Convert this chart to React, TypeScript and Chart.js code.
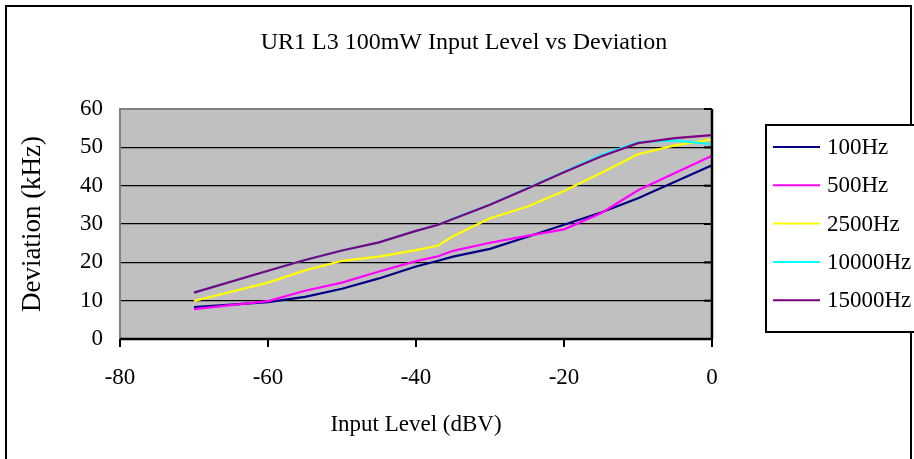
import React, { useEffect, useRef } from "react";
import { Chart, registerables } from "chart.js";

Chart.register(...registerables);

// Input level sweep (dBV), shared by every tone
const inputLevels = [-70, -60, -55, -50, -45, -40, -37, -35, -30, -25, -20, -15, -10, -5, 0];

// Measured deviation (kHz) per test tone
const dev100Hz = [8.3, 9.6, 11.0, 13.1, 15.8, 18.9, 20.4, 21.5, 23.5, 26.6, 29.8, 33.0, 36.7, 41.0, 45.3];
const dev500Hz = [7.8, 9.9, 12.6, 14.7, 17.6, 20.3, 21.6, 23.0, 25.1, 26.9, 28.6, 32.8, 38.8, 43.3, 47.8];
const dev2500Hz = [9.9, 14.7, 17.9, 20.4, 21.5, 23.2, 24.4, 26.8, 31.5, 34.5, 38.6, 43.3, 48.2, 50.5, 52.1];
const dev10000Hz = [12.1, 17.8, 20.6, 23.1, 25.2, 28.2, 29.8, 31.4, 35.1, 39.3, 43.6, 48.0, 51.3, 51.8, 50.8];
const dev15000Hz = [12.1, 17.8, 20.6, 23.1, 25.2, 28.2, 29.8, 31.3, 35.0, 39.2, 43.5, 47.6, 51.1, 52.4, 53.2];

const seriesLabels = ["100Hz", "500Hz", "2500Hz", "10000Hz", "15000Hz"];
const seriesColors = ["#000080", "#FF00FF", "#FFFF00", "#00FFFF", "#800080"];
const seriesValues = [dev100Hz, dev500Hz, dev2500Hz, dev10000Hz, dev15000Hz];

const chartTitle = "UR1 L3 100mW Input Level vs Deviation";
const xTitle = "Input Level (dBV)";
const yTitle = "Deviation (kHz)";

const FONT = "'Liberation Serif', 'Times New Roman', serif";

const framePlugin = {
  id: "frame",
  beforeDraw(chart: any) {
    const { ctx, chartArea: a } = chart;
    ctx.save();
    ctx.fillStyle = "#ffffff";
    ctx.fillRect(0, 0, chart.width, chart.height);
    ctx.fillStyle = "#C0C0C0";
    ctx.fillRect(a.left, a.top, a.right - a.left, a.bottom - a.top);
    ctx.restore();
  },
  afterDatasetsDraw(chart: any) {
    const { ctx, chartArea: a, scales } = chart;
    ctx.save();
    // grey plot-area border (left and top)
    ctx.strokeStyle = "#808080";
    ctx.lineWidth = 2;
    ctx.beginPath();
    ctx.moveTo(a.left, a.bottom);
    ctx.lineTo(a.left, a.top);
    ctx.lineTo(a.right, a.top);
    ctx.stroke();

    // value axis crossing at 0 dBV, with inward ticks
    const yScale = scales.y;
    const xZero = scales.x.getPixelForValue(0);
    ctx.strokeStyle = "#000000";
    ctx.lineWidth = 2.5;
    ctx.beginPath();
    ctx.moveTo(xZero, a.top);
    ctx.lineTo(xZero, a.bottom);
    ctx.stroke();
    ctx.lineWidth = 2;
    yScale.ticks.forEach((t: any) => {
      const py = yScale.getPixelForValue(t.value);
      ctx.beginPath();
      ctx.moveTo(xZero - 8, py);
      ctx.lineTo(xZero, py);
      ctx.stroke();
    });

    // category axis along the bottom with outward ticks
    const xScale = scales.x;
    ctx.lineWidth = 2.5;
    ctx.beginPath();
    ctx.moveTo(a.left, a.bottom);
    ctx.lineTo(a.right, a.bottom);
    ctx.stroke();
    ctx.lineWidth = 2;
    xScale.ticks.forEach((t: any) => {
      const px = xScale.getPixelForValue(t.value);
      ctx.beginPath();
      ctx.moveTo(px, a.bottom);
      ctx.lineTo(px, a.bottom + 8);
      ctx.stroke();
    });
    ctx.restore();
  },
  afterDraw(chart: any) {
    const { ctx } = chart;
    ctx.save();
    // outer chart border
    ctx.strokeStyle = "#000000";
    ctx.lineWidth = 2;
    ctx.beginPath();
    ctx.moveTo(6, chart.height + 2);
    ctx.lineTo(6, 6);
    ctx.lineTo(911, 6);
    ctx.lineTo(911, chart.height + 2);
    ctx.stroke();

    // title
    ctx.fillStyle = "#000000";
    ctx.font = `24px ${FONT}`;
    ctx.textAlign = "center";
    ctx.textBaseline = "alphabetic";
    ctx.fillText(chartTitle, 464, 49);

    // legend
    const boxL = 766;
    const boxT = 125;
    const boxB = 332;
    ctx.fillStyle = "#ffffff";
    ctx.fillRect(boxL, boxT, chart.width - boxL + 4, boxB - boxT);
    ctx.strokeStyle = "#000000";
    ctx.lineWidth = 2;
    ctx.strokeRect(boxL, boxT, chart.width - boxL + 4, boxB - boxT);
    ctx.font = `23px ${FONT}`;
    ctx.textAlign = "left";
    ctx.textBaseline = "middle";
    seriesLabels.forEach((label, i) => {
      const y = 147 + i * 38.3;
      ctx.strokeStyle = seriesColors[i];
      ctx.lineWidth = 2;
      ctx.beginPath();
      ctx.moveTo(773, y);
      ctx.lineTo(820, y);
      ctx.stroke();
      ctx.fillStyle = "#000000";
      ctx.fillText(label, 827, y + 1);
    });
    ctx.restore();
  },
};

export default function App() {
  const canvasRef = useRef<HTMLCanvasElement | null>(null);

  useEffect(() => {
    document.body.style.margin = "0";
    const canvas = canvasRef.current;
    if (!canvas) return;
    const chart = new Chart(canvas, {
      type: "scatter",
      data: {
        datasets: seriesLabels.map((label, i) => ({
          label,
          data: inputLevels.map((x, j) => ({ x, y: seriesValues[i][j] })),
          showLine: true,
          borderColor: seriesColors[i],
          backgroundColor: seriesColors[i],
          borderWidth: 2.2,
          pointRadius: 0,
          tension: 0,
          // later series paint over earlier ones
          order: seriesLabels.length - i,
        })),
      },
      options: {
        responsive: false,
        animation: false,
        devicePixelRatio: 1,
        layout: { padding: { left: 0, right: 202, top: 109, bottom: 0 } },
        plugins: {
          legend: { display: false },
          title: { display: false },
          tooltip: { enabled: false },
        },
        scales: {
          x: {
            type: "linear",
            min: -80,
            max: 0,
            border: { display: false },
            grid: { display: false },
            ticks: {
              stepSize: 20,
              color: "#000000",
              padding: 17,
              font: { family: FONT, size: 23 },
            },
            title: {
              display: true,
              text: xTitle,
              color: "#000000",
              font: { family: FONT, size: 23 },
              padding: { top: 0, bottom: 20 },
            },
            afterFit: (s: any) => {
              s.height = 120;
            },
          },
          y: {
            type: "linear",
            min: 0,
            max: 60,
            border: { display: false },
            grid: { color: "#000000", lineWidth: 1.3, drawTicks: false },
            ticks: {
              stepSize: 10,
              color: "#000000",
              padding: 17,
              font: { family: FONT, size: 23 },
            },
            title: {
              display: true,
              text: yTitle,
              color: "#000000",
              font: { family: FONT, size: 27 },
              padding: { top: 17, bottom: 0 },
            },
            afterFit: (s: any) => {
              s.width = 120;
            },
          },
        },
      },
      plugins: [framePlugin],
    });
    return () => chart.destroy();
  }, []);

  return (
    <div style={{ width: 914, height: 459 }}>
      <canvas ref={canvasRef} width={914} height={459} style={{ display: "block" }} />
    </div>
  );
}
